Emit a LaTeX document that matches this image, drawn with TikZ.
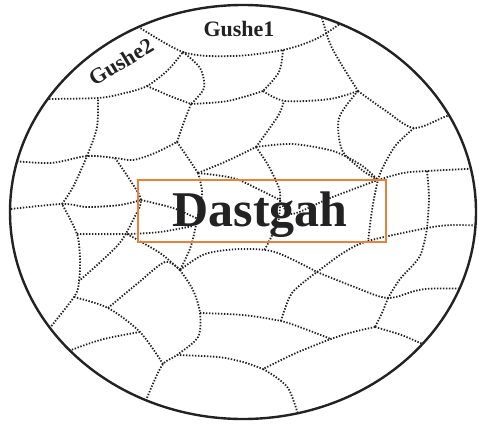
\documentclass[tikz,border=0pt]{standalone}
\usepackage{xcolor}
\usepackage{fontspec}
\setmainfont{Liberation Serif}
\definecolor{boxorange}{HTML}{E8823A}
\definecolor{inkgray}{HTML}{222222}
\tikzset{
  web/.style={line width=1.8pt, dash pattern=on 1.4pt off 1.6pt, inkgray},
}

\begin{document}
\begin{tikzpicture}[x=1pt,y=-1pt]
    \useasboundingbox (0,0) rectangle (478,425);

    % 定义交点
    \coordinate (A) at (183,52);
    \coordinate (B) at (283,50);
    \coordinate (C) at (98,98);
    \coordinate (D) at (147,86);
    \coordinate (E) at (191,104);
    \coordinate (F) at (263,91);
    \coordinate (H) at (358,91);
    \coordinate (I) at (414,128);
    \coordinate (K) at (378,180);
    \coordinate (M) at (427,171);
    \coordinate (N) at (427,228);
    \coordinate (J1) at (87,156);
    \coordinate (J2) at (177,142);
    \coordinate (J3) at (62,204);
    \coordinate (J4) at (198,173);
    \coordinate (Jb) at (115,158);
    \coordinate (Jc) at (141,200);
    \coordinate (Jd) at (280,200);
    \coordinate (P) at (256,147);
    \coordinate (R) at (317,272);
    \coordinate (Q) at (388,298);
    \coordinate (S) at (375,327);
    \coordinate (W) at (331,339);
    \coordinate (T) at (263,369);
    \coordinate (U) at (281,321);
    \coordinate (V) at (200,313);
    \coordinate (X) at (177,355);
    \coordinate (X2) at (163,364);
    \coordinate (Y) at (180,270);
    \coordinate (Z) at (74,297);
    \coordinate (Z2) at (108,308);
    \coordinate (Z3) at (140,332);
    \coordinate (L) at (77,234);
    \coordinate (L2) at (127,234);
    \coordinate (Lz) at (79,281);

    % 网状虚线
    \begin{scope}
    \clip (243,212) ellipse [x radius=232, y radius=206];
    \draw[web] plot[smooth] coordinates {(128,20) (A) (233,56) (B) (318,38) (348,18)};
    \draw[web] plot[smooth] coordinates {(40,99) (C) (125,93) (D) (168,70) (A)};
    \draw[web] plot[smooth] coordinates {(A) (200,68) (204,88) (E)};
    \draw[web] plot[smooth] coordinates {(D) (170,96) (E)};
    \draw[web] plot[smooth] coordinates {(E) (228,101) (F)};
    \draw[web] plot[smooth] coordinates {(B) (279,72) (F)};
    \draw[web] plot[smooth] coordinates {(F) (285,101) (330,99) (H)};
    \draw[web] plot[smooth] coordinates {(322,18) (332,48) (H)};
    \draw[web] plot[smooth] coordinates {(H) (386,111) (I) (447,116) (485,104)};
    \draw[web] plot[smooth] coordinates {(H) (339,118) (342,150) (362,170) (K)};
    \draw[web] plot[smooth] coordinates {(I) (396,145) (384,165) (K) (372,210) (368,242)};
    \draw[web] plot[smooth] coordinates {(K) (403,173) (M) (485,168)};
    \draw[web] plot[smooth] coordinates {(M) (429,198) (N)};
    \draw[web] plot[smooth] coordinates {(R) (343,253) (368,241) (N) (452,225) (488,226)};
    \draw[web] plot[smooth] coordinates {(N) (420,256) (400,279) (Q)};
    \draw[web] plot[smooth] coordinates {(R) (352,286) (Q) (425,289) (488,289)};
    \draw[web] plot[smooth] coordinates {(Q) (382,313) (S)};
    \draw[web] plot[smooth] coordinates {(S) (404,336) (440,352)};
    \draw[web] plot[smooth] coordinates {(S) (353,332) (W) (296,353) (T)};
    \draw[web] plot[smooth] coordinates {(T) (288,388) (302,428)};
    \draw[web] plot[smooth] coordinates {(X) (218,357) (243,362) (T)};
    \draw[web] plot[smooth] coordinates {(Y) (193,290) (V) (198,337) (X) (X2) (152,386) (143,408)};
    \draw[web] plot[smooth] coordinates {(V) (243,315) (U) (305,329) (W)};
    \draw[web] plot[smooth] coordinates {(U) (292,293) (R)};
    \draw[web] plot[smooth] coordinates {(Y) (205,254) (240,249) (275,252) (R)};
    \draw[web] plot[smooth] coordinates {(J4) (202,192) (198,215) (191,246) (Y)};
    \draw[web] plot[smooth] coordinates {(L2) (160,253) (Y)};
    \draw[web] plot[smooth] coordinates {(L) (L2) (160,232) (193,226)};
    \draw[web] plot[smooth] coordinates {(40,340) (Z) (Lz) (80,260) (L) (J3)};
    \draw[web] plot[smooth] coordinates {(J3) (73,187) (J1) (97,127) (C)};
    \draw[web] plot[smooth] coordinates {(2,160) (50,163) (J1) (Jb) (133,160) (155,153) (J2)};
    \draw[web] plot[smooth] coordinates {(J2) (184,122) (E)};
    \draw[web] plot[smooth] coordinates {(J2) (188,158) (J4)};
    \draw[web] plot[smooth] coordinates {(J4) (227,161) (P)};
    \draw[web] plot[smooth] coordinates {(P) (278,116) (284,101)};
    \draw[web] plot[smooth] coordinates {(P) (292,144) (333,151) (361,165) (K)};
    \draw[web] plot[smooth] coordinates {(P) (268,165) (279,188) (Jd) (278,222) (264,251)};
    \draw[web] plot[smooth] coordinates {(Jb) (130,180) (Jc) (134,218) (118,245) (Lz)};
    \draw[web] plot[smooth] coordinates {(Jc) (173,208) (198,219)};
    \draw[web] plot[smooth] coordinates {(2,210) (J3) (87,207) (120,205) (Jc)};
    \draw[web] plot[smooth] coordinates {(J4) (233,178) (258,189) (Jd)};
    \draw[web] plot[smooth] coordinates {(Jd) (292,214) (330,198) (K)};
    \draw[web] plot[smooth] coordinates {(Z) (Z2) (Z3) (X2)};
    \draw[web] plot[smooth] coordinates {(Z2) (138,283) (165,262) (Y)};
    \draw[web] plot[smooth] coordinates {(55,356) (100,340) (Z3)};
    \end{scope}

    % 外圈
    \draw[line width=2.4pt, inkgray] (243,212) ellipse [x radius=233, y radius=207];

    % 文字和方框
    \draw[boxorange, line width=2.8pt] (138,180) rectangle (386,242);
    \node[inkgray, font=\fontsize{50}{50}\selectfont\bfseries, anchor=base] (dastgah) at (260,226) {Dastgah};
    \node[inkgray, font=\fontsize{22}{22}\selectfont\bfseries, anchor=base] (gushe1) at (239,37) {Gushe1};
    \node[inkgray, font=\fontsize{22}{22}\selectfont\bfseries, rotate=31] (gushe2) at (121,62) {Gushe2};

\end{tikzpicture}
\end{document}
